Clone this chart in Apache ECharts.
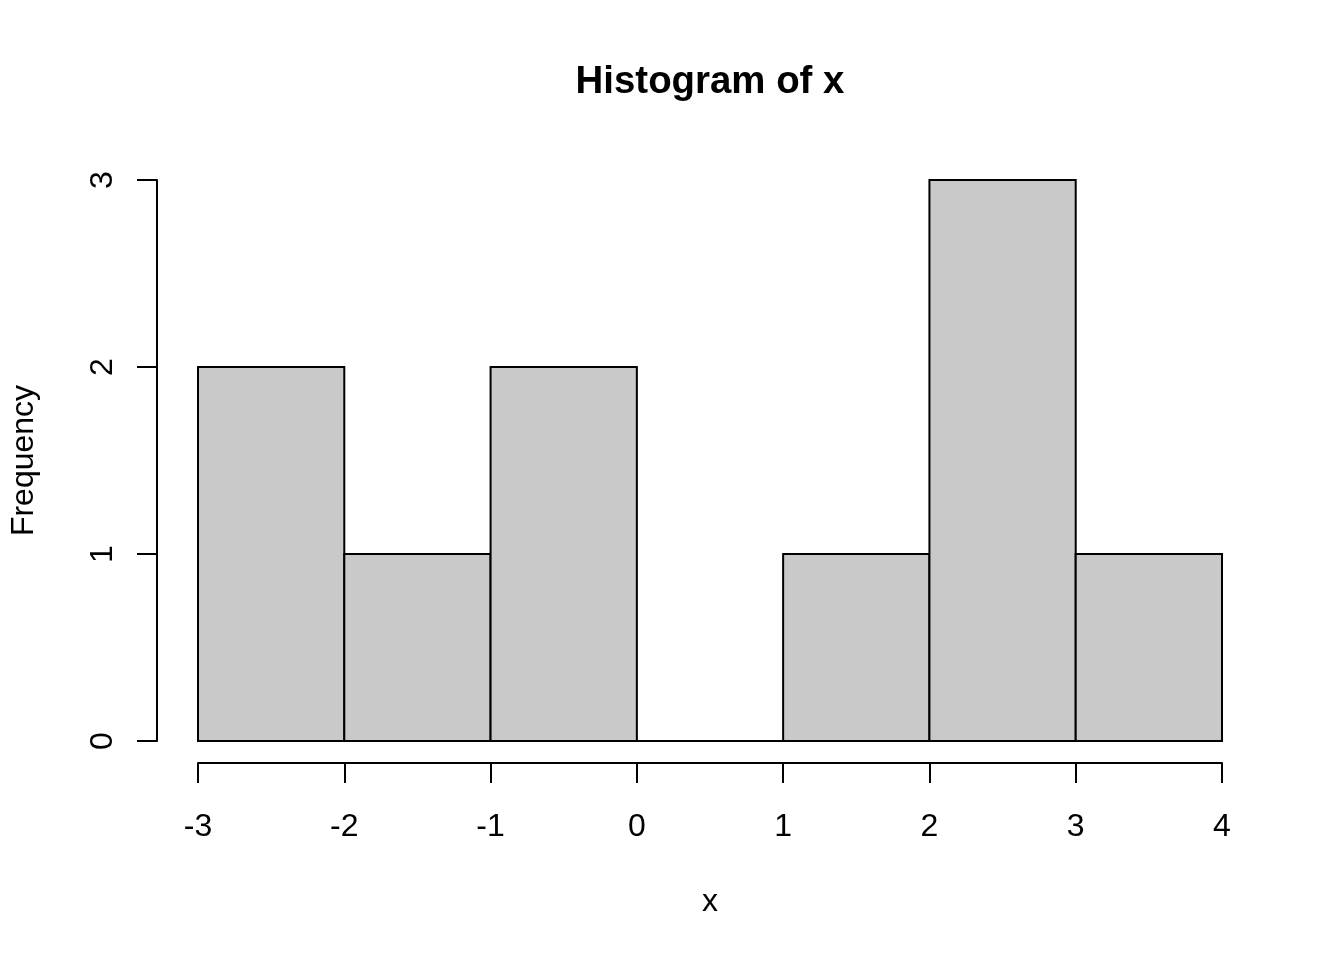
<!DOCTYPE html>
<html>
<head>
<meta charset="utf-8">
<script src="https://cdn.jsdelivr.net/npm/echarts@6/dist/echarts.min.js"></script>
<style>
html,body{margin:0;padding:0;background:#fff;}
#chart{width:1344px;height:960px;}
</style>
</head>
<body>
<div id="chart"></div>
<script>
// Histogram bins (left edge, right edge) and counts
const binStarts = [-3, -2, -1, 0, 1, 2, 3];
const binEnds   = [-2, -1, 0, 1, 2, 3, 4];
const counts    = [2, 1, 2, 0, 1, 3, 1];
const xTicks = [-3, -2, -1, 0, 1, 2, 3, 4];
const yTicks = [0, 1, 2, 3];

const FONT = 'Liberation Sans, Arial, Helvetica, sans-serif';
const data = binStarts.map((s, i) => [s, binEnds[i], counts[i]]);

const chart = echarts.init(document.getElementById('chart'), null, {renderer: 'canvas'});
chart.setOption({
  backgroundColor: '#ffffff',
  animation: false,
  title: {
    text: 'Histogram of x',
    left: 705,
    top: 58,
    textAlign: 'center',
    textStyle: {fontFamily: FONT, fontWeight: 'bold', fontSize: 38.4, color: '#000'}
  },
  grid: {left: 198, right: 122, top: 180, bottom: 219, containLabel: false},
  xAxis: {
    type: 'value',
    min: xTicks[0], max: xTicks[xTicks.length - 1], interval: 1,
    offset: 22,
    name: 'x',
    nameLocation: 'middle',
    nameGap: 123,
    nameTextStyle: {fontFamily: FONT, fontSize: 32, color: '#000'},
    axisLine: {show: true, onZero: false, lineStyle: {color: '#000', width: 2}},
    axisTick: {show: true, length: 20, lineStyle: {color: '#000', width: 2}},
    axisLabel: {margin: 48, fontFamily: FONT, fontSize: 32, color: '#000'},
    splitLine: {show: false}
  },
  yAxis: {
    type: 'value',
    min: yTicks[0], max: yTicks[yTicks.length - 1], interval: 1,
    offset: 41,
    name: 'Frequency',
    nameLocation: 'middle',
    nameGap: 117,
    nameTextStyle: {fontFamily: FONT, fontSize: 32, color: '#000'},
    axisLine: {show: true, onZero: false, lineStyle: {color: '#000', width: 2}},
    axisTick: {show: true, length: 20, lineStyle: {color: '#000', width: 2}},
    axisLabel: {rotate: 90, margin: 38, fontFamily: FONT, fontSize: 32, color: '#000'},
    splitLine: {show: false}
  },
  series: [{
    type: 'custom',
    data: data,
    encode: {x: [0, 1], y: 2},
    clip: false,
    renderItem: function (params, api) {
      const p0 = api.coord([api.value(0), 0]);
      const p1 = api.coord([api.value(1), api.value(2)]);
      return {
        type: 'rect',
        shape: {x: p0[0], y: p1[1], width: p1[0] - p0[0], height: p0[1] - p1[1]},
        style: {fill: '#C9C9C9', stroke: '#000', lineWidth: 2}
      };
    }
  }]
});
</script>
</body>
</html>
